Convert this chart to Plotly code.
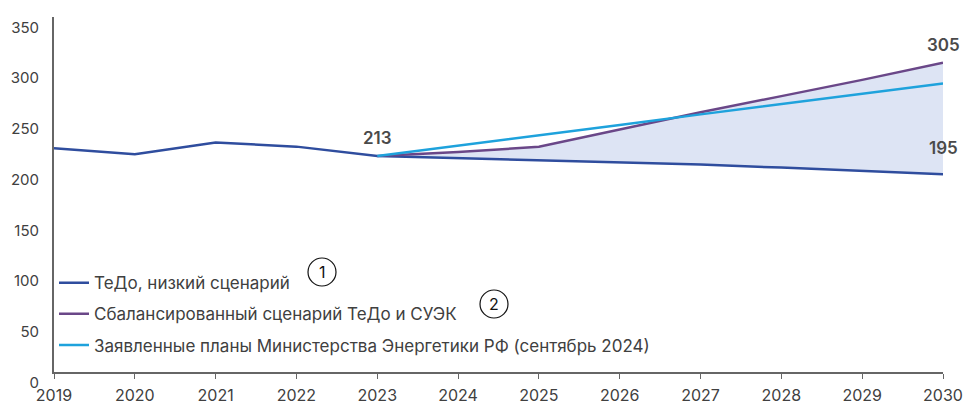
import plotly.graph_objects as go

years = [2019, 2020, 2021, 2022, 2023, 2024, 2025, 2026, 2027, 2028, 2029, 2030]
proj_years = [2023, 2024, 2025, 2026, 2027, 2028, 2029, 2030]

low_scenario = [220.5, 214.8, 226.3, 222.2, 213, 211, 209, 207, 204.5, 201.5, 198.5, 195]
balanced = [213, 217, 222, 239, 256, 272, 288, 305]
ministry = [213, 223, 233.5, 243.5, 254, 264, 274, 284.5]

names = ["ТеДо, низкий сценарий",
         "Сбалансированный сценарий ТеДо и СУЭК",
         "Заявленные планы Министерства Энергетики РФ (сентябрь 2024)"]

yticks = [0, 50, 100, 150, 200, 250, 300, 350]

C_LOW = "#2f4d9e"
C_BAL = "#6a4788"
C_MIN = "#1ea2dc"
C_FILL = "#dde4f4"
TXT = "#404040"
FONT = "Inter"

low_proj = low_scenario[years.index(2023):]

fig = go.Figure()
# shaded band between low scenario and balanced scenario
fig.add_trace(go.Scatter(x=proj_years, y=low_proj, mode="lines", line=dict(width=0),
                         showlegend=False, hoverinfo="skip"))
fig.add_trace(go.Scatter(x=proj_years, y=balanced, mode="lines", line=dict(width=0),
                         fill="tonexty", fillcolor=C_FILL, showlegend=False, hoverinfo="skip"))

fig.add_trace(go.Scatter(x=years, y=low_scenario, mode="lines", name=names[0],
                         line=dict(color=C_LOW, width=2.5), legendgroup="a"))
fig.add_trace(go.Scatter(x=proj_years, y=balanced, mode="lines", name=names[1],
                         line=dict(color=C_BAL, width=2.5), legendgroup="b"))
fig.add_trace(go.Scatter(x=proj_years, y=ministry, mode="lines", name=names[2],
                         line=dict(color=C_MIN, width=2.5), legendgroup="c"))

ann = []
for xv, yv, ys in [(2023, 213, 18), (2030, balanced[-1], 18), (2030, low_scenario[-1], 26)]:
    ann.append(dict(x=xv, y=yv, text=f"{yv:g}", showarrow=False, yshift=ys,
                    xanchor="center", yanchor="middle",
                    font=dict(family=FONT, size=17, color="#4a4a4a", weight=600)))

# circled markers
circles = [("1", 322, 272), ("2", 494, 304)]
shapes = []
L, T, W, H = 54, 17, 889, 355
for label, cx, cy in circles:
    r = 14
    shapes.append(dict(type="circle", xref="paper", yref="paper",
                       x0=(cx - r - L) / W, x1=(cx + r - L) / W,
                       y0=(T + H - (cy + r)) / H, y1=(T + H - (cy - r)) / H,
                       line=dict(color="#111111", width=1.2)))
    ann.append(dict(x=(cx - L) / W, y=(T + H - cy) / H, xref="paper", yref="paper",
                    text=label, showarrow=False, xanchor="center", yanchor="middle",
                    font=dict(family=FONT, size=16, color="#111111")))

fig.update_layout(
    width=965, height=405,
    margin=dict(l=L, r=965 - L - W, t=T, b=405 - T - H),
    paper_bgcolor="white", plot_bgcolor="white",
    font=dict(family=FONT, size=16, color=TXT),
    showlegend=True,
    legend=dict(x=0.0, xanchor="left", y=0.025, yanchor="bottom",
                bgcolor="rgba(0,0,0,0)", tracegroupgap=6,
                font=dict(family=FONT, size=17, color=TXT),
                itemwidth=30),
    annotations=ann,
    shapes=shapes,
)
fig.update_xaxes(range=[2019, 2030], tickvals=years, ticktext=[str(y) for y in years],
                 showgrid=False, zeroline=False, showline=True, linecolor="#666666",
                 linewidth=2, ticks="outside", ticklen=5, tickcolor="#666666",
                 automargin=False, ticklabelstandoff=3,
                 tickfont=dict(family=FONT, size=16, color=TXT))
fig.update_yaxes(range=[0, 350], tickvals=yticks, showgrid=False, zeroline=False,
                 showline=True, linecolor="#666666", linewidth=2, ticks="",
                 automargin=False,
                 ticklabelposition="outside bottom", ticklabelstandoff=10,
                 tickfont=dict(family=FONT, size=15, color=TXT))

fig.write_html("out.html", config={"displayModeBar": False},
               post_script="document.body.style.margin='0px';")
